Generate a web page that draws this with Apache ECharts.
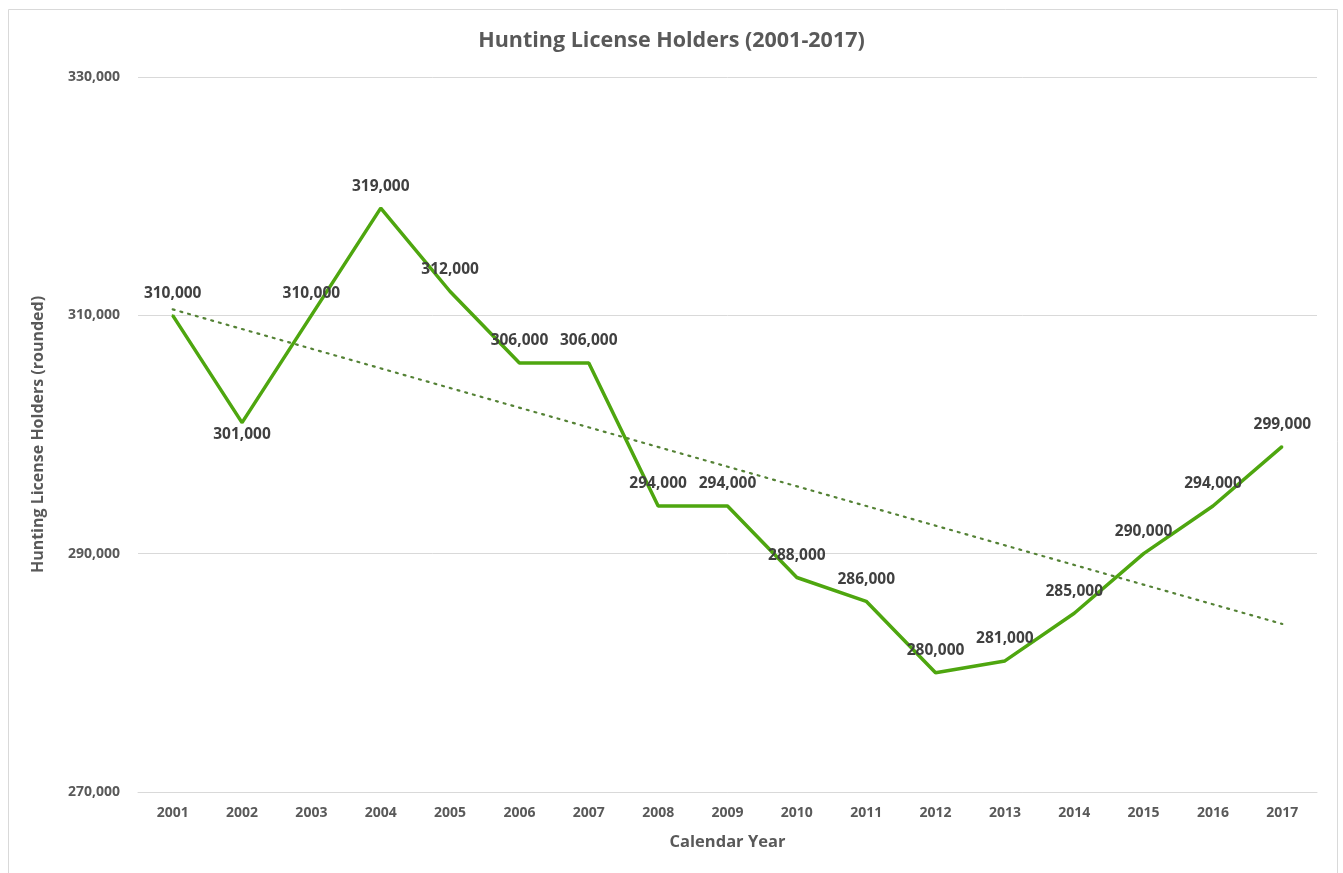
<!DOCTYPE html>
<html>
<head>
<meta charset="utf-8">
<script src="https://cdn.jsdelivr.net/npm/echarts@6/dist/echarts.min.js"></script>
<style>html,body{margin:0;padding:0;background:#fff;}#c{width:1343px;height:873px;}</style>
</head>
<body>
<div id="c"></div>
<script>
var years = ['2001','2002','2003','2004','2005','2006','2007','2008','2009','2010','2011','2012','2013','2014','2015','2016','2017'];
var holders = [310000,301000,310000,319000,312000,306000,306000,294000,294000,288000,286000,280000,281000,285000,290000,294000,299000];
var trendStart = 310500;
var trendEnd = 284100;
var belowLabels = ['2002'];

var FONT = '"Open Sans", "Noto Sans", sans-serif';
var chart = echarts.init(document.getElementById('c'));
var lineData = holders.map(function (v, i) {
  var d = { value: v };
  if (belowLabels.indexOf(years[i]) >= 0) d.label = { position: 'bottom', distance: 3 };
  return d;
});
chart.setOption({
  animation: false,
  backgroundColor: '#fff',
  title: {
    text: 'Hunting License Holders (2001-2017)',
    left: 'center', top: 25,
    textStyle: { fontFamily: FONT, fontSize: 21.5, fontWeight: 'bold', color: '#595959' }
  },
  graphic: [{
    type: 'rect', shape: { x: 8.5, y: 9.5, width: 1329, height: 880 },
    style: { fill: 'none', stroke: '#d9d9d9', lineWidth: 1 }, silent: true, z: -1
  }],
  grid: { left: 138, right: 26, top: 77, bottom: 81, containLabel: false },
  xAxis: {
    type: 'category', data: years, boundaryGap: true,
    name: 'Calendar Year', nameLocation: 'middle', nameGap: 42,
    nameTextStyle: { fontFamily: FONT, fontSize: 16.5, fontWeight: 'bold', color: '#595959' },
    axisLine: { lineStyle: { color: '#d9d9d9', width: 1 } },
    axisTick: { show: false },
    axisLabel: { fontFamily: FONT, fontSize: 14, fontWeight: 'bold', color: '#595959', margin: 14 }
  },
  yAxis: {
    type: 'value', min: 270000, max: 330000, interval: 20000,
    name: 'Hunting License Holders (rounded)', nameLocation: 'middle', nameGap: 92,
    nameTextStyle: { fontFamily: FONT, fontSize: 16, fontWeight: 'bold', color: '#595959' },
    axisLine: { show: false }, axisTick: { show: false },
    splitLine: { lineStyle: { color: '#d9d9d9', width: 1 } },
    axisLabel: {
      fontFamily: FONT, fontSize: 14, fontWeight: 'bold', color: '#595959', margin: 18,
      formatter: function (v) { return v.toLocaleString('en-US'); }
    }
  },
  series: [
    {
      type: 'line', data: lineData, symbol: 'circle', symbolSize: 2, showSymbol: true, z: 3,
      itemStyle: { color: '#4ea60f', borderWidth: 0 },
      lineStyle: { color: '#4ea60f', width: 3.5 },
      label: {
        show: true, position: 'top', distance: 13, opacity: 1,
        fontFamily: FONT, fontSize: 15.5, fontWeight: 'bold', color: '#404040',
        formatter: function (p) { return p.value.toLocaleString('en-US'); }
      },
      labelLayout: { hideOverlap: false }
    },
    {
      type: 'line', data: [[0, trendStart], [years.length - 1, trendEnd]], symbol: 'none', z: 2,
      lineStyle: { color: '#548235', width: 2.2, type: [2, 6], cap: 'round' },
      silent: true
    }
  ]
});
</script>
</body>
</html>
